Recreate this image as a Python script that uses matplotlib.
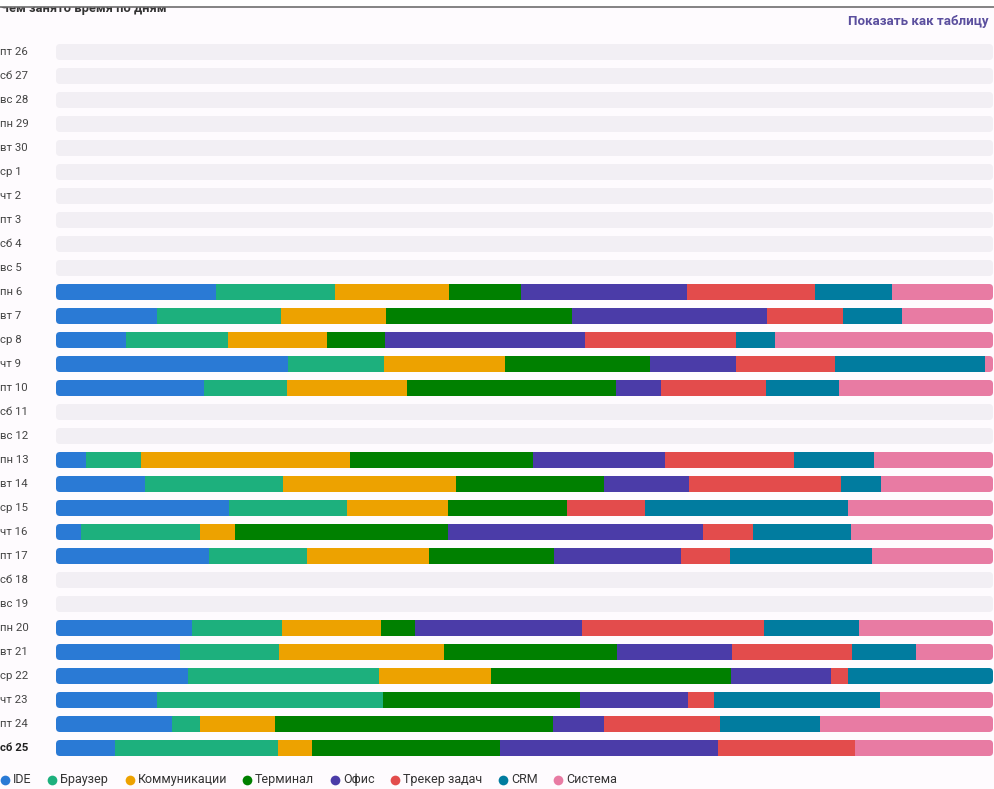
import matplotlib
matplotlib.use("Agg")
import matplotlib.pyplot as plt
from matplotlib.patches import FancyBboxPatch, Rectangle
from matplotlib.lines import Line2D
import matplotlib.transforms as mtransforms
import numpy as np

plt.rcParams['font.family'] = ['Roboto', 'DejaVu Sans']

days = ["пт 26", "сб 27", "вс 28", "пн 29", "вт 30", "ср 1", "чт 2", "пт 3", "сб 4", "вс 5",
        "пн 6", "вт 7", "ср 8", "чт 9", "пт 10", "сб 11", "вс 12",
        "пн 13", "вт 14", "ср 15", "чт 16", "пт 17", "сб 18", "вс 19",
        "пн 20", "вт 21", "ср 22", "чт 23", "пт 24", "сб 25"]

categories = ["IDE", "Браузер", "Коммуникации", "Терминал", "Офис", "Трекер задач", "CRM", "Система"]
colors = ["#2a7ad5", "#1db07d", "#eda200", "#008000", "#4b3ca8", "#e34c4c", "#017c9f", "#e87ba3"]

# share of the day (%) per category
ide = [0, 0, 0, 0, 0, 0, 0, 0, 0, 0,
       17.1, 10.8, 7.5, 24.8, 15.8, 0, 0,
       3.2, 9.5, 18.5, 2.7, 16.3, 0, 0,
       14.5, 13.2, 14.1, 10.8, 12.4, 6.3]
browser = [0, 0, 0, 0, 0, 0, 0, 0, 0, 0,
           12.7, 13.2, 10.9, 10.2, 8.8, 0, 0,
           5.9, 14.8, 12.6, 12.7, 10.5, 0, 0,
           9.6, 10.6, 20.4, 24.1, 3.0, 17.4]
comms = [0, 0, 0, 0, 0, 0, 0, 0, 0, 0,
         12.2, 11.2, 10.5, 13.0, 12.9, 0, 0,
         22.3, 18.4, 10.8, 3.7, 13.0, 0, 0,
         10.5, 17.6, 12.0, 0, 8.0, 3.6]
terminal = [0, 0, 0, 0, 0, 0, 0, 0, 0, 0,
            7.7, 19.9, 6.3, 15.5, 22.3, 0, 0,
            19.5, 15.8, 12.7, 22.7, 13.3, 0, 0,
            3.7, 18.5, 25.6, 21.0, 29.7, 20.1]
office = [0, 0, 0, 0, 0, 0, 0, 0, 0, 0,
          17.7, 20.8, 21.3, 9.1, 4.8, 0, 0,
          14.1, 9.1, 0, 27.2, 13.6, 0, 0,
          17.8, 12.2, 10.7, 11.5, 5.4, 23.3]
tracker = [0, 0, 0, 0, 0, 0, 0, 0, 0, 0,
           13.7, 8.1, 16.1, 10.6, 11.2, 0, 0,
           13.8, 16.3, 8.3, 5.4, 5.2, 0, 0,
           19.4, 12.9, 1.8, 2.8, 12.4, 14.6]
crm = [0, 0, 0, 0, 0, 0, 0, 0, 0, 0,
       8.2, 6.3, 4.2, 16.0, 7.8, 0, 0,
       8.5, 4.2, 21.7, 10.4, 15.2, 0, 0,
       10.1, 6.8, 15.5, 17.7, 10.7, 0]
system = [0, 0, 0, 0, 0, 0, 0, 0, 0, 0,
          10.8, 9.7, 23.3, 0.9, 16.4, 0, 0,
          12.7, 12.0, 15.5, 15.2, 12.9, 0, 0,
          14.3, 8.2, 0, 12.1, 18.5, 14.7]

series = [ide, browser, comms, terminal, office, tracker, crm, system]
title = "Чем занято время по дням"
link = "Показать как таблицу"
today = "сб 25"

W, H = 994, 789
BG = "#fefbfe"
TRACK = "#f2eff4"

fig = plt.figure(figsize=(W / 100, H / 100), dpi=100, facecolor=BG)

# axes area in pixels
ax_left, ax_right = 56, 993
ax_top, ax_bot = 40, 760
ax = fig.add_axes([ax_left / W, 1 - ax_bot / H, (ax_right - ax_left) / W, (ax_bot - ax_top) / H])
ax.set_facecolor(BG)
n = len(days)
ax.set_xlim(0, 100)
ax.set_ylim(n - 0.5, -0.5)
ax.axis("off")

data = np.array(series, dtype=float)  # cat x day
totals = data.sum(axis=0)
bar_h = 16 / 24
px_x = (ax_right - ax_left) / 100.0
px_y = 24.0
radius_px = 4.0
rs = radius_px / px_x
aspect = (radius_px / px_y) / rs

for i in range(n):
    track = FancyBboxPatch((0, i - bar_h / 2), 100, bar_h,
                           boxstyle=f"round,pad=0,rounding_size={rs}",
                           mutation_aspect=aspect, facecolor=TRACK, edgecolor="none",
                           transform=ax.transData, zorder=1)
    ax.add_patch(track)
    if totals[i] <= 0:
        continue
    clip = FancyBboxPatch((0, i - bar_h / 2), 100, bar_h,
                          boxstyle=f"round,pad=0,rounding_size={rs}",
                          mutation_aspect=aspect, facecolor="none", edgecolor="none",
                          transform=ax.transData)
    left = 0.0
    for c in range(len(categories)):
        v = data[c, i] / totals[i] * 100
        if v <= 0:
            continue
        bars = ax.barh(i, v, left=left, height=bar_h, color=colors[c], linewidth=0, zorder=2)
        for b in bars:
            b.set_clip_path(clip)
        left += v

# day labels
trans = mtransforms.blended_transform_factory(fig.transFigure, ax.transData)
for i, d in enumerate(days):
    ax.text(0.0, i, d, transform=trans, ha="left", va="center", fontsize=8.2,
            color="#222222" if d == today else "#444444",
            fontweight="bold" if d == today else "normal")

# title (cut off at the top) and header line
fig.text(0.0, 1 - 12 / H, title, ha="left", va="baseline", fontsize=9.3,
         fontweight="bold", color="#333333")
fig.patches.append(Rectangle((0, 1 - 7 / H), 1, 7 / H, transform=fig.transFigure,
                             facecolor="white", edgecolor="none", zorder=5))
fig.lines.append(Line2D([0, 1], [1 - 7 / H, 1 - 7 / H], transform=fig.transFigure,
                        color="#6e6e6e", linewidth=1.2, zorder=6))
fig.text(989 / W, 1 - 22 / H, link, ha="right", va="center", fontsize=9.5,
         fontweight="bold", color="#5b4f9e")

# legend
leg_x = [5, 52, 130, 247, 335, 395, 503, 558]
leg_y = 1 - 779.5 / H
for c, name in enumerate(categories):
    fig.lines.append(Line2D([leg_x[c] / W], [leg_y], marker="o", markersize=7,
                            markerfacecolor=colors[c], markeredgecolor="none",
                            linestyle="none", transform=fig.transFigure))
    fig.text((leg_x[c] + 8) / W, leg_y, name, ha="left", va="center", fontsize=9,
             color="#333333")

fig.savefig("out.png", dpi=100, facecolor=BG)
